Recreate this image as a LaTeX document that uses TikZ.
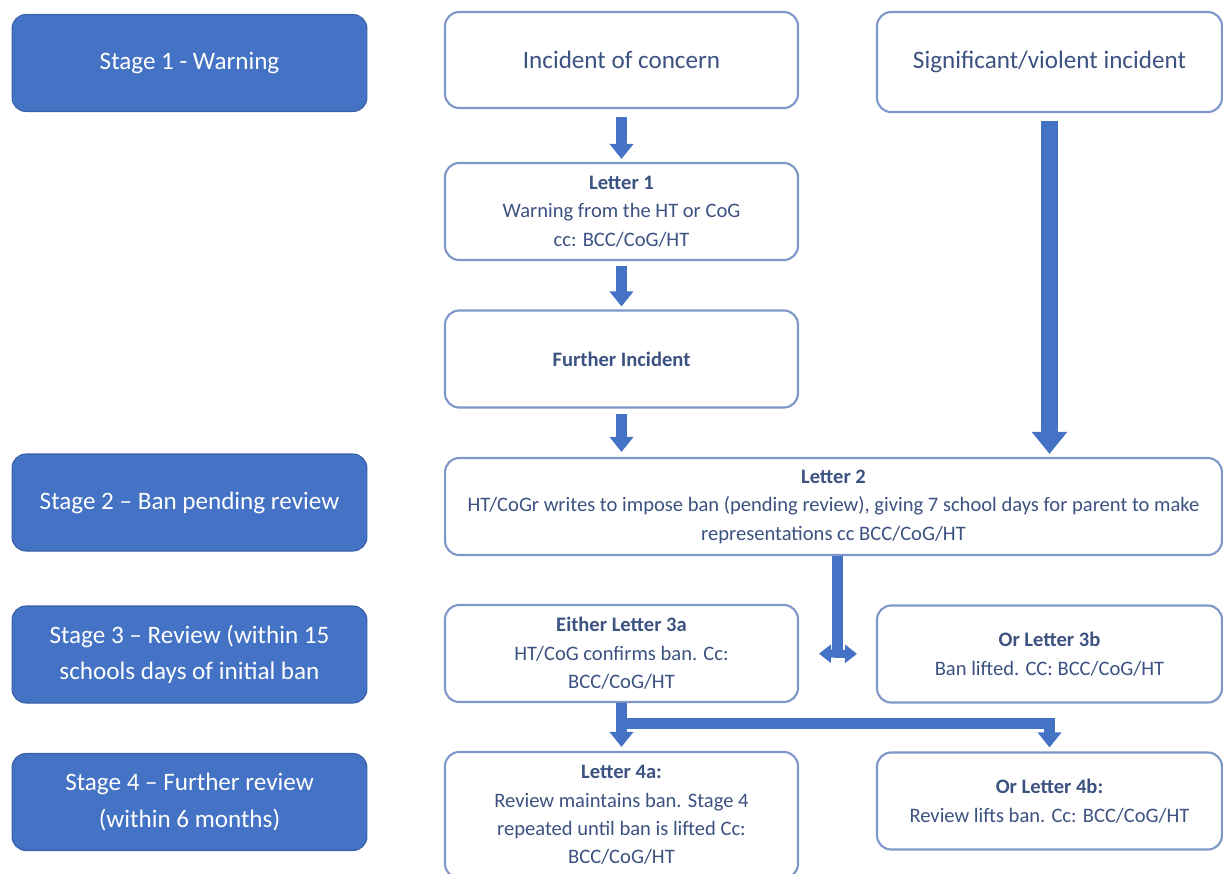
\documentclass[tikz,border=0pt]{standalone}
\usepackage{fontspec}
\setmainfont{Carlito}
\usetikzlibrary{arrows.meta,calc}
\definecolor{stageblue}{HTML}{4472C4}
\definecolor{boxline}{HTML}{7F97C8}
\definecolor{boxtext}{HTML}{3C5281}
\begin{document}
\begin{tikzpicture}[x=0.02cm, y=-0.02cm, line join=round,
stage/.style={rectangle, rounded corners=0.28cm, fill=stageblue, draw=stageblue!85!black, line width=0.6pt, text=white, align=center, minimum width=7.1cm, minimum height=1.94cm, font=\fontsize{14.3}{20.5}\selectfont},
box/.style={rectangle, rounded corners=0.28cm, draw=boxline, line width=1.2pt, fill=white, text=boxtext, align=center, minimum height=1.94cm, font=\fontsize{11.7}{16.2}\selectfont},
big/.style={font=\fontsize{14.3}{18}\selectfont},
flow/.style={draw=stageblue, line width=0.22cm, -{Triangle[width=0.46cm,length=0.3cm]}},
bigflow/.style={draw=stageblue, line width=0.34cm, -{Triangle[width=0.68cm,length=0.44cm]}},
thinflow/.style={draw=stageblue, line width=0.16cm, {Triangle[width=0.36cm,length=0.24cm]}-{Triangle[width=0.36cm,length=0.24cm]}}]
\useasboundingbox (0,0) rectangle (1223,873);
\clip (0,0) rectangle (1223,873);
%Stages
\foreach \n/\y/\t in {1/63/{Stage 1 - Warning}, 2/502.5/{Stage 2 – Ban pending review},
3/654.5/{Stage 3 – Review (within 15\\schools days of initial ban}, 4/802/{Stage 4 – Further review\\(within 6 months)}}
\node[stage] (s\n) at (189.5,\y) {\t};
%Boxes
\node[box, big, minimum width=7.06cm, minimum height=1.92cm] (inc) at (621.5,60) {Incident of concern};
\node[box, big, minimum width=6.9cm, minimum height=2cm] (sig) at (1049.5,62) {Significant/violent incident};
\node[box, minimum width=7.06cm] (l1) at (621.5,211.5) {\textbf{Letter 1}\\Warning from the HT or CoG\\cc: BCC/CoG/HT};
\node[box, minimum width=7.06cm] (fur) at (621.5,359) {\textbf{Further Incident}};
\node[box, minimum width=15.54cm] (l2) at (833.5,506.5) {\textbf{Letter 2}\\HT/CoGr writes to impose ban (pending review), giving 7 school days for parent to make\\representations cc BCC/CoG/HT};
\node[box, minimum width=7.06cm] (l3a) at (621.5,653.5) {\textbf{Either Letter 3a}\\HT/CoG confirms ban. Cc:\\BCC/CoG/HT};
\node[box, minimum width=6.9cm] (l3b) at (1049.5,654) {\textbf{Or Letter 3b}\\Ban lifted. CC: BCC/CoG/HT};
\node[box, minimum width=7.06cm, minimum height=2.52cm] (l4a) at (621.5,815) {\textbf{Letter 4a:}\\Review maintains ban. Stage 4\\repeated until ban is lifted Cc:\\BCC/CoG/HT};
\node[box, minimum width=6.9cm] (l4b) at (1049.5,801) {\textbf{Or Letter 4b:}\\Review lifts ban. Cc: BCC/CoG/HT};
%Arrows
\draw[flow, shorten <=0.16cm, shorten >=0.06cm] (inc) -- (l1);
\draw[flow, shorten <=0.1cm, shorten >=0.06cm] (l1) -- (fur);
\draw[flow, shorten <=0.1cm, shorten >=0.1cm] (fur.south) -- (fur.south |- l2.north);
\draw[bigflow, shorten <=0.16cm, shorten >=0.06cm] (sig.south) -- (sig.south |- l2.north);
\coordinate (fork) at ($(l3a.east)!0.5!(l3b.west)$);
\draw[flow, -] (fork |- l2.south) -- (fork);
\draw[thinflow, shorten <=0.4cm, shorten >=0.38cm] (l3a.east) -- (l3b.west);
\draw[flow, shorten >=0.08cm] (l3a.south) -- (l4a.north);
\draw[flow, shorten >=0.08cm, line join=miter] ($(l3a.south)+(0,20)$) -| (l4b.north);
\end{tikzpicture}
\end{document}
